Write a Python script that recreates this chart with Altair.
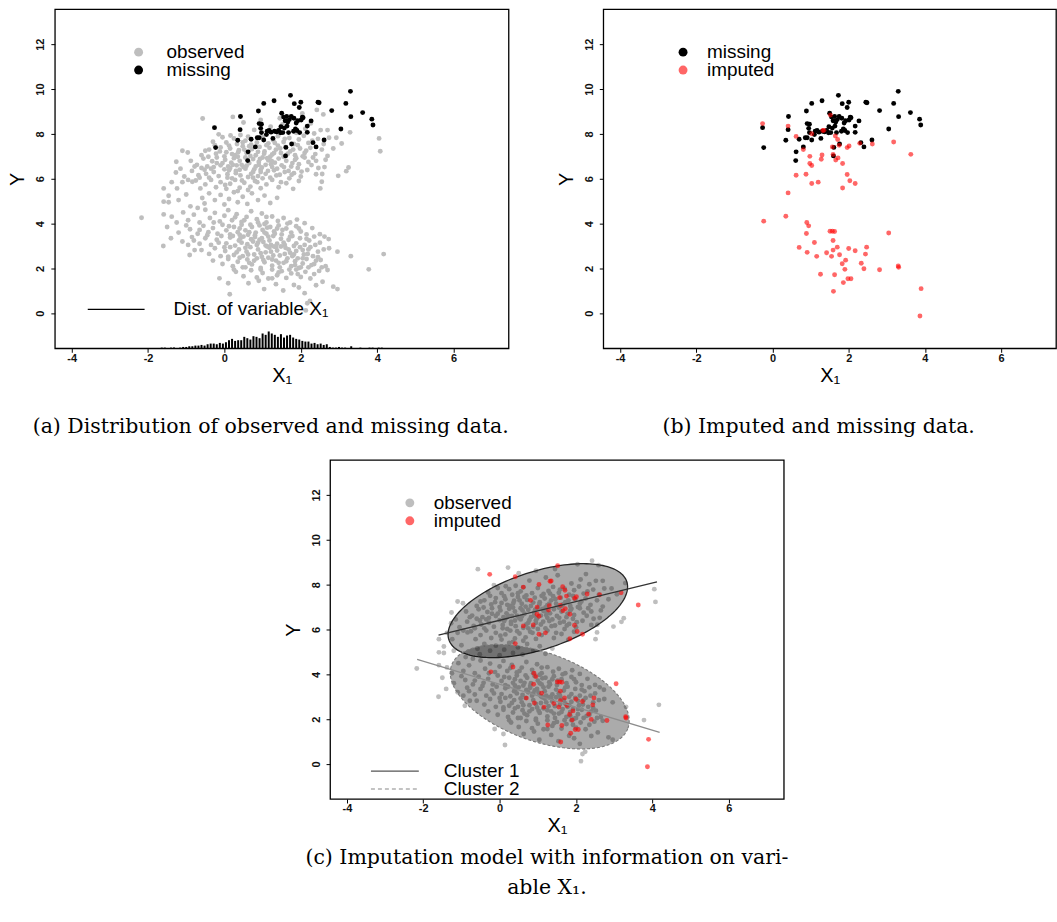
import numpy as np
import pandas as pd
import altair as alt

SANS = "Liberation Sans"
SERIF = "DejaVu Serif"

# ---------------------------------------------------------------- data
# observed cases (X1, Y), upper component
observed_upper = [
    (-0.57, 8.69), (0.22, 8.76), (0.50, 8.51), (-0.15, 7.98), (0.16, 7.93), (0.42, 7.95), (2.42, 9.07),
    (2.59, 8.87), (2.04, 8.91), (2.26, 8.47), (2.52, 8.17), (2.70, 8.17), (1.21, 8.32), (0.78, 8.18),
    (1.52, 8.42), (2.12, 8.23), (1.88, 8.05), (2.35, 8.02), (0.95, 8.62), (1.45, 8.70), (3.29, 8.07),
    (-0.30, 7.65), (0.05, 7.62), (0.25, 7.80), (0.33, 7.55), (0.55, 7.70), (0.62, 7.88), (0.85, 7.62),
    (1.00, 7.85), (1.15, 7.58), (1.28, 7.72), (1.40, 7.90), (1.55, 7.64), (1.70, 7.82), (1.82, 7.55),
    (1.95, 7.75), (2.08, 7.92), (2.20, 7.60), (2.45, 7.78), (2.60, 7.55), (2.74, 7.83), (2.93, 7.83),
    (3.07, 7.57), (4.05, 7.80), (0.70, 7.52), (1.92, 7.50), (-0.05, 7.85),
    (-1.10, 7.25), (-0.96, 7.17), (-0.60, 7.05), (-0.40, 7.30), (-0.22, 7.12), (-0.10, 7.40), (0.05, 7.18),
    (0.15, 7.35), (0.28, 7.05), (0.38, 7.28), (0.48, 7.45), (0.58, 7.15), (0.72, 7.32), (0.82, 7.05),
    (0.92, 7.42), (1.05, 7.22), (1.18, 7.38), (1.25, 7.08), (1.35, 7.30), (1.48, 7.15), (1.60, 7.42),
    (1.72, 7.22), (1.85, 7.05), (1.98, 7.35), (2.10, 7.15), (2.25, 7.38), (2.38, 7.10), (2.55, 7.30),
    (2.70, 7.02), (4.08, 7.23), (0.00, 7.00), (0.65, 7.45), (1.40, 7.48),
    (-1.26, 6.76), (-0.88, 6.80), (-0.72, 6.62), (-0.55, 6.90), (-0.45, 6.55), (-0.32, 6.78), (-0.20, 6.95),
    (-0.10, 6.60), (0.02, 6.85), (0.10, 6.55), (0.18, 6.72), (0.25, 6.92), (0.32, 6.60), (0.40, 6.80),
    (0.50, 6.52), (0.55, 6.95), (0.65, 6.70), (0.75, 6.88), (0.82, 6.55), (0.90, 6.75), (1.00, 6.95),
    (1.08, 6.62), (1.15, 6.82), (1.25, 6.52), (1.32, 6.72), (1.42, 6.90), (1.50, 6.60), (1.62, 6.80),
    (1.75, 6.55), (1.85, 6.85), (1.95, 6.65), (2.10, 6.95), (2.28, 6.61), (2.40, 6.80), (2.62, 6.52),
    (3.25, 6.50), (-0.05, 6.70), (0.35, 6.98), (1.20, 6.98),
    (-1.27, 6.28), (-1.05, 6.10), (-0.85, 6.35), (-0.68, 6.16), (-0.52, 6.40), (-0.40, 6.05), (-0.28, 6.30),
    (-0.15, 6.12), (0.00, 6.42), (0.08, 6.20), (0.20, 6.02), (0.30, 6.35), (0.42, 6.15), (0.55, 6.45),
    (0.62, 6.08), (0.75, 6.30), (0.88, 6.12), (0.95, 6.40), (1.08, 6.22), (1.20, 6.05), (1.30, 6.38),
    (1.45, 6.18), (1.58, 6.30), (1.70, 6.02), (1.82, 6.25), (2.17, 6.39), (2.56, 6.21), (2.98, 6.13),
    (3.19, 6.34), (2.00, 6.10), (-0.60, 6.48), (0.15, 6.48), (1.00, 6.02),
    (-1.59, 5.57), (-1.24, 5.57), (-1.10, 5.85), (-0.84, 5.87), (-0.63, 5.57), (-0.50, 5.75), (-0.35, 5.95),
    (-0.22, 5.62), (-0.10, 5.85), (0.05, 5.55), (0.15, 5.78), (0.28, 5.95), (0.40, 5.60), (0.52, 5.82),
    (0.68, 5.65), (0.80, 5.90), (0.95, 5.58), (1.10, 5.75), (1.25, 5.95), (1.42, 5.62), (1.62, 5.80),
    (1.80, 5.55), (2.55, 5.87), (2.51, 5.57), (-0.75, 5.92),
    (-1.59, 4.98), (-1.46, 4.95), (-1.46, 5.24), (-1.00, 5.30), (-0.89, 4.77), (-0.58, 5.14), (-0.52, 4.90),
    (-0.40, 5.35), (-0.25, 5.05), (-0.10, 5.28), (0.00, 4.85), (0.12, 5.10), (0.25, 5.40), (0.35, 4.95),
    (0.48, 5.20), (0.60, 4.88), (0.72, 5.35), (0.88, 5.05), (1.05, 5.25), (1.20, 4.92), (1.38, 5.15),
    (-1.20, 5.05),
    (0.12, 6.38), (0.45, 6.62), (0.70, 6.22), (0.98, 6.50), (1.12, 6.92), (1.38, 6.45), (1.55, 6.98),
    (1.68, 6.35), (1.92, 6.48), (0.60, 6.85), (0.30, 6.25), (-0.35, 6.45), (-0.20, 6.70), (0.88, 7.20),
    (1.30, 7.15), (1.62, 7.05), (0.20, 7.10), (0.52, 7.30), (2.20, 6.75), (2.05, 7.00), (0.95, 6.30),
    (1.22, 6.65), (-0.48, 6.22), (0.40, 6.40), (1.78, 6.70),
    (-0.42, 6.98), (-0.28, 6.52), (-0.12, 7.22), (0.08, 6.05), (0.22, 6.62), (0.36, 7.18), (0.46, 5.92),
    (0.58, 6.58), (0.68, 7.02), (0.78, 6.42), (0.86, 5.85), (0.93, 6.88), (1.04, 7.12), (1.14, 6.35),
    (1.24, 6.78), (1.36, 6.15), (1.46, 7.35), (1.56, 6.52), (1.66, 7.12), (1.76, 6.18), (1.88, 6.92),
    (2.02, 6.32), (2.14, 7.25), (2.32, 6.95), (2.46, 6.48), (-0.65, 6.05), (-0.78, 6.55), (-0.95, 5.95),
    (-1.15, 6.45), (-1.38, 5.85), (0.02, 5.72), (0.35, 5.45), (0.62, 5.50), (0.90, 6.62), (1.10, 7.50),
    (1.32, 7.60), (1.58, 7.78), (1.80, 7.30), (2.30, 7.70), (0.48, 7.62), (0.12, 7.48), (-0.25, 7.50),
    (-0.50, 7.25), (2.65, 6.85), (2.85, 7.35), (2.40, 6.20), (1.95, 5.90), (0.75, 6.05), (1.48, 5.85),
]

# observed cases, lower component
observed_lower = [
    (-2.17, 4.26), (-1.59, 4.41), (-1.38, 4.31), (-1.08, 4.50), (-0.95, 4.15), (-0.80, 4.40), (-0.65, 4.05),
    (-0.50, 4.62), (-0.38, 4.25), (-0.25, 4.48), (-0.12, 4.10), (0.00, 4.35), (0.10, 4.60), (0.20, 4.15),
    (0.32, 4.42), (0.45, 4.08), (0.58, 4.30), (0.70, 4.55), (0.85, 4.20), (0.98, 4.45), (1.10, 4.05),
    (1.25, 4.32), (1.40, 4.12), (1.55, 4.25), (1.72, 4.05), (1.90, 4.18), (2.10, 4.02), (-0.70, 4.70),
    (-1.50, 3.85), (-1.20, 3.60), (-0.90, 3.75), (-0.70, 3.55), (-0.55, 3.90), (-0.42, 3.62), (-0.30, 3.80),
    (-0.18, 3.55), (-0.05, 3.95), (0.05, 3.70), (0.15, 3.52), (0.25, 3.85), (0.35, 3.62), (0.45, 3.95),
    (0.55, 3.70), (0.62, 3.50), (0.72, 3.85), (0.82, 3.60), (0.92, 3.92), (1.00, 3.72), (1.10, 3.55),
    (1.20, 3.85), (1.30, 3.65), (1.42, 3.92), (1.50, 3.52), (1.62, 3.78), (1.75, 3.60), (1.88, 3.88),
    (2.00, 3.65), (2.15, 3.52), (2.30, 3.80), (2.50, 3.53), (0.40, 3.50), (1.05, 3.98),
    (-1.60, 3.00), (-1.10, 3.20), (-0.85, 3.40), (-0.65, 3.10), (-0.50, 3.35), (-0.35, 3.05), (-0.20, 3.28),
    (-0.08, 3.45), (0.05, 3.12), (0.15, 3.38), (0.28, 3.02), (0.38, 3.25), (0.50, 3.42), (0.60, 3.08),
    (0.70, 3.30), (0.80, 3.48), (0.88, 3.15), (0.98, 3.35), (1.08, 3.02), (1.18, 3.25), (1.28, 3.45),
    (1.38, 3.10), (1.48, 3.32), (1.58, 3.05), (1.68, 3.28), (1.78, 3.45), (1.88, 3.12), (1.98, 3.35),
    (2.10, 3.05), (2.22, 3.25), (2.35, 3.42), (2.50, 3.15), (2.73, 3.31), (-0.95, 3.05), (0.45, 3.15),
    (1.22, 3.05),
    (-0.91, 2.60), (-0.78, 2.82), (-0.60, 2.82), (-0.40, 2.65), (-0.25, 2.90), (-0.10, 2.55), (0.02, 2.78),
    (0.15, 2.95), (0.25, 2.60), (0.38, 2.85), (0.48, 2.55), (0.58, 2.75), (0.68, 2.95), (0.78, 2.62),
    (0.88, 2.85), (0.98, 2.52), (1.08, 2.72), (1.18, 2.92), (1.28, 2.58), (1.38, 2.80), (1.48, 2.98),
    (1.58, 2.65), (1.68, 2.85), (1.78, 2.55), (1.88, 2.78), (1.98, 2.95), (2.08, 2.62), (2.20, 2.85),
    (2.32, 2.55), (2.45, 2.75), (2.74, 2.90), (2.96, 2.75), (3.31, 2.55), (4.17, 2.64), (0.10, 2.52),
    (1.12, 2.98),
    (-0.30, 2.35), (-0.05, 2.20), (0.10, 2.42), (0.22, 2.10), (0.35, 2.30), (0.48, 2.05), (0.60, 2.40),
    (0.72, 2.18), (0.85, 2.45), (0.95, 2.02), (1.05, 2.28), (1.15, 2.48), (1.25, 2.12), (1.35, 2.35),
    (1.45, 2.05), (1.55, 2.25), (1.65, 2.45), (1.75, 2.10), (1.85, 2.32), (1.95, 2.02), (2.05, 2.22),
    (2.15, 2.42), (2.28, 2.15), (2.40, 2.35), (2.52, 2.38), (2.65, 2.10), (0.40, 2.48),
    (-0.13, 1.56), (0.30, 1.85), (0.50, 1.65), (0.70, 1.92), (0.85, 1.60), (1.00, 1.80), (1.15, 1.55),
    (1.25, 1.95), (1.38, 1.70), (1.50, 1.88), (1.62, 1.58), (1.75, 1.78), (1.88, 1.95), (2.00, 1.62),
    (2.12, 1.85), (2.25, 1.55), (2.35, 1.75), (2.48, 1.89), (2.70, 1.93), (3.78, 1.96), (1.25, 1.56),
    (0.10, 1.34), (0.14, 0.85), (0.63, 1.34), (1.04, 1.08), (1.54, 1.02), (1.82, 1.26), (2.24, 0.55),
    (2.17, 0.45), (2.96, 1.08), (2.85, 1.19), (2.57, 1.41), (1.35, 1.30), (1.95, 1.15), (2.40, 1.25),
    (0.90, 1.45), (2.10, 0.90), (2.13, 0.13),
    (0.42, 3.35), (0.65, 3.62), (0.85, 3.05), (1.02, 3.18), (1.15, 3.42), (1.35, 2.95), (1.55, 3.15),
    (1.72, 2.70), (1.92, 2.45), (2.18, 2.65), (0.95, 2.68), (1.25, 2.40), (1.45, 2.58), (1.62, 2.32),
    (1.82, 3.00), (2.05, 2.82), (0.55, 2.92), (0.75, 3.20), (1.05, 3.60), (1.38, 3.78), (0.22, 3.45),
    (2.35, 2.20), (2.00, 2.05), (1.70, 1.95), (0.65, 2.25),
    (-0.45, 3.48), (-0.28, 4.05), (-0.15, 3.15), (0.00, 2.95), (0.12, 3.88), (0.28, 4.28), (0.32, 2.72),
    (0.52, 4.15), (0.62, 2.62), (0.68, 3.95), (0.78, 2.35), (0.88, 4.05), (0.92, 3.28), (1.02, 2.38),
    (1.12, 3.82), (1.22, 2.75), (1.32, 3.55), (1.42, 2.25), (1.52, 3.72), (1.60, 2.92), (1.72, 3.42),
    (1.82, 2.62), (1.95, 3.78), (2.05, 2.45), (2.15, 3.32), (2.25, 2.95), (2.38, 3.05), (2.45, 2.50),
    (2.60, 2.85), (2.62, 3.42), (-0.65, 3.72), (-0.80, 3.25), (-1.00, 3.92), (-1.25, 4.05), (-1.40, 3.35),
    (0.25, 1.95), (0.55, 2.05), (0.95, 1.95), (1.42, 1.82), (1.92, 1.75), (2.20, 2.05), (2.55, 2.05),
    (1.10, 4.30), (1.65, 4.00), (0.40, 3.78), (0.80, 3.40), (1.30, 2.98), (1.85, 2.15),
]

# cases whose Y is missing (true values)
missing = [
    (-0.26, 8.28), (-0.23, 7.39), (0.42, 8.78), (0.41, 8.19), (0.35, 7.72), (0.62, 7.20), (0.61, 6.81),
    (0.70, 7.76), (0.81, 7.42), (0.89, 9.02), (0.91, 8.46), (1.03, 9.36), (0.97, 8.43), (0.86, 7.83),
    (0.91, 7.83), (0.97, 8.06), (1.03, 7.73), (1.10, 7.97), (1.17, 8.16), (1.27, 7.80), (1.30, 9.48),
    (1.31, 8.12), (1.37, 8.09), (1.42, 8.16), (1.50, 8.92), (1.55, 8.75), (1.53, 8.06), (1.57, 8.26),
    (1.59, 8.59), (1.61, 7.40), (1.60, 7.02), (1.63, 8.78), (1.66, 8.53), (1.68, 8.06), (1.70, 8.64),
    (1.73, 9.72), (1.75, 8.78), (1.76, 7.55), (1.83, 9.35), (1.81, 8.12), (1.86, 8.22), (1.88, 8.49),
    (1.92, 8.59), (1.96, 9.18), (1.97, 8.06), (2.00, 9.41), (2.01, 8.62), (2.04, 8.75), (2.17, 8.35),
    (2.17, 8.07), (2.27, 8.58), (2.32, 7.61), (2.40, 7.42), (2.45, 9.41), (2.48, 9.39), (2.61, 7.73),
    (2.81, 9.04), (3.05, 8.22), (3.18, 9.36), (3.30, 9.90), (3.31, 8.77), (3.62, 8.95), (3.86, 8.66),
    (3.89, 8.40), (1.12, 8.12), (1.22, 8.08), (1.47, 8.05), (1.64, 8.35), (1.90, 8.15), (2.06, 8.72),
    (1.48, 8.32), (0.95, 8.25), (1.82, 8.70),
]

# imputed values for the missing cases
imputed = [
    (-0.26, 8.46), (-0.23, 4.11), (0.41, 8.35), (0.35, 4.33), (0.41, 5.37), (0.62, 7.89), (0.62, 6.16),
    (0.81, 7.30), (0.88, 6.20), (0.98, 7.00), (0.98, 6.68), (1.03, 6.59), (1.03, 5.79), (1.20, 5.85),
    (1.03, 8.01), (1.32, 8.15), (1.30, 7.06), (1.28, 6.87), (1.52, 8.84), (1.57, 7.42), (1.59, 7.08),
    (1.65, 7.91), (1.71, 7.75), (1.75, 7.49), (1.72, 6.93), (1.66, 6.84), (1.84, 6.68), (1.96, 7.39),
    (2.01, 7.46), (1.96, 6.19), (2.03, 5.91), (1.84, 5.59), (2.17, 5.79), (2.29, 7.58), (2.62, 7.55),
    (3.18, 7.64), (3.63, 7.09), (1.35, 8.16),
    (0.90, 4.05), (0.95, 3.90), (0.89, 3.56), (1.10, 3.16), (0.70, 2.94), (0.91, 2.72), (1.16, 2.54),
    (1.42, 2.70), (1.51, 3.66), (1.57, 3.66), (1.63, 3.65), (1.59, 3.25), (1.70, 2.95), (1.59, 2.82),
    (1.55, 2.54), (1.76, 2.61), (2.00, 2.89), (2.17, 2.79), (2.47, 2.95), (2.44, 2.64), (1.92, 2.37),
    (1.83, 2.21), (1.90, 1.96), (2.33, 2.23), (2.40, 1.99), (2.81, 1.94), (1.26, 1.74), (1.63, 1.72),
    (1.98, 1.54), (2.06, 1.54), (1.86, 1.37), (1.60, 0.98), (3.05, 3.58), (3.30, 2.11), (3.31, 2.05),
    (3.90, 1.10), (3.87, -0.12),
]

# histogram of X1 drawn along the bottom of panel (a)
x1_hist_start = -1.72
x1_hist_width = 0.08
x1_hist_counts = [
    0, 1, 1, 0, 1, 1, 0, 1, 2, 2, 3, 3, 4, 4, 5, 4, 6, 7, 7, 6, 8, 7, 9, 12, 14,
    11, 12, 12, 17, 15, 13, 18, 17, 15, 22, 20, 25, 22, 20, 17, 21, 16, 19, 20, 16,
    14, 13, 11, 10, 10, 7, 8, 6, 7, 5, 6, 2, 1, 1, 2, 1, 1, 0, 3, 0, 0, 1, 0, 0, 1,
    1, 0, 1, 1, 0,
]
hist_unit = 0.03  # Y units per count

# fitted two-component model: ellipse centres and semi-axis vectors, regression lines
cluster1_center = [1.00, 6.84]
cluster1_axis_a = [2.33, 1.29]
cluster1_axis_b = [-0.31, 1.65]
cluster2_center = [1.05, 3.00]
cluster2_axis_a = [2.31, -1.40]
cluster2_axis_b = [0.39, 1.86]
cluster1_line_x = [-1.60, 4.12]
cluster1_line_y = [5.75, 8.12]
cluster2_line_x = [-2.16, 4.19]
cluster2_line_y = [4.67, 1.41]

x_ticks = [-4, -2, 0, 2, 4, 6]
y_ticks = [0, 2, 4, 6, 8, 10, 12]
x_domain = [-4.44, 7.44]
y_domain = [-1.56, 13.56]

caption_a = "(a) Distribution of observed and missing data."
caption_b = "(b) Imputed and missing data."
caption_c = ["(c) Imputation model with information on vari-", "able X\u2081."]

# ---------------------------------------------------------------- frames
def pts(pairs):
    return pd.DataFrame(pairs, columns=["x", "y"])

obs_df = pd.concat([pts(observed_upper), pts(observed_lower)], ignore_index=True)
miss_df = pts(missing)
imp_df = pts(imputed)
hist_df = pd.DataFrame({
    "x": [x1_hist_start + i * x1_hist_width for i in range(len(x1_hist_counts))],
    "count": x1_hist_counts,
})


def ellipse_df(center, a, b, n=160):
    t = np.linspace(0, 2 * np.pi, n + 1)
    return pd.DataFrame({
        "t": np.arange(n + 1),
        "x": center[0] + a[0] * np.cos(t) + b[0] * np.sin(t),
        "y": center[1] + a[1] * np.cos(t) + b[1] * np.sin(t),
    })


ell1_df = ellipse_df(cluster1_center, cluster1_axis_a, cluster1_axis_b)
ell2_df = ellipse_df(cluster2_center, cluster2_axis_a, cluster2_axis_b)
line1_df = pd.DataFrame({"x": cluster1_line_x, "y": cluster1_line_y})
line2_df = pd.DataFrame({"x": cluster2_line_x, "y": cluster2_line_y})
ONE = pd.DataFrame({"k": [0]})

# ---------------------------------------------------------------- scales & axes
W, H = 455, 340
W_B = 454
GRAY = "#bebebe"

x_scale = alt.Scale(domain=x_domain, nice=False, zero=False)
y_scale = alt.Scale(domain=y_domain, nice=False, zero=False)
x_axis = alt.Axis(
    title="X\u2081", values=x_ticks, labelExpr="'' + datum.value",
    tickSize=4, labelPadding=0, titleY=27, titleBaseline="middle",
)
y_axis = alt.Axis(
    title="Y", values=y_ticks, labelExpr="'' + datum.value",
    labelAngle=270, labelAlign="center", labelBaseline="bottom",
    tickSize=4, labelPadding=5,
    titleAngle=270, titleX=-37, titleY=H / 2, titleBaseline="middle", titleAlign="center",
)


def X(field="x"):
    return alt.X(f"{field}:Q", scale=x_scale, axis=x_axis)


def Y(field="y"):
    return alt.Y(f"{field}:Q", scale=y_scale, axis=y_axis)


def scatter(df, color, opacity=1.0):
    return alt.Chart(df).mark_circle(size=24, color=color, opacity=opacity).encode(x=X(), y=Y())


def legend_dot(px, py, color, opacity=1.0):
    return alt.Chart(ONE).mark_circle(size=80, color=color, opacity=opacity).encode(
        x=alt.value(px), y=alt.value(py))


def legend_text(px, py, label):
    return alt.Chart(ONE).mark_text(
        text=label, align="left", baseline="middle", font=SANS, fontSize=19, color="black"
    ).encode(x=alt.value(px), y=alt.value(py))


def legend_line(px1, px2, py, color, dash=None):
    kw = dict(color=color, strokeWidth=1.4)
    if dash:
        kw["strokeDash"] = dash
    return alt.Chart(ONE).mark_rule(**kw).encode(
        x=alt.value(px1), x2=alt.value(px2), y=alt.value(py))


def caption(text, dx, offset):
    return alt.TitleParams(
        text=text, orient="bottom", anchor="middle", font=SERIF, fontSize=20.5,
        fontWeight="normal", color="black", dx=dx, offset=offset, lineHeight=30,
    )

# ---------------------------------------------------------------- panel (a)
hist = alt.Chart(hist_df).transform_calculate(
    top=f"{y_domain[0]} + datum.count * {hist_unit}"
).mark_rule(color="black", strokeWidth=2).encode(
    x=X(), y=Y("top"), y2=alt.value(H)
)

panel_a = alt.layer(
    scatter(obs_df, GRAY),
    scatter(miss_df, "black"),
    hist,
    legend_dot(84, 43, GRAY), legend_text(112, 43, "observed"),
    legend_dot(84, 61, "black"), legend_text(112, 61, "missing"),
    legend_line(33, 90, 301, "black"), legend_text(119, 301, "Dist. of variable X\u2081"),
).properties(width=W, height=H, title=caption(caption_a, -11, 32))

# ---------------------------------------------------------------- panel (b)
panel_b = alt.layer(
    scatter(miss_df, "black"),
    scatter(imp_df, "red", 0.6),
    legend_dot(80, 43, "black"), legend_text(104, 43, "missing"),
    legend_dot(80, 61, "red", 0.6), legend_text(104, 61, "imputed"),
).properties(width=W_B, height=H, title=caption(caption_b, -11, 32))

# ---------------------------------------------------------------- panel (c)
ell1 = alt.Chart(ell1_df).mark_line(
    fill="black", fillOpacity=0.33, stroke="#262626", strokeWidth=1.3
).encode(x=X(), y=Y(), order="t:Q")
ell2 = alt.Chart(ell2_df).mark_line(
    fill="black", fillOpacity=0.33, stroke="#7a7a7a", strokeWidth=1.1, strokeDash=[3, 2]
).encode(x=X(), y=Y(), order="t:Q")
reg1 = alt.Chart(line1_df).mark_line(color="#333333", strokeWidth=1.3).encode(x=X(), y=Y())
reg2 = alt.Chart(line2_df).mark_line(color="#8c8c8c", strokeWidth=1.3).encode(x=X(), y=Y())

panel_c = alt.layer(
    scatter(obs_df, GRAY),
    ell1, ell2,
    scatter(imp_df, "red", 0.6),
    reg1, reg2,
    legend_dot(80, 43, GRAY), legend_text(104, 43, "observed"),
    legend_dot(80, 61, "red", 0.6), legend_text(104, 61, "imputed"),
    legend_line(41, 89, 312, "#555555"), legend_text(114, 312, "Cluster 1"),
    legend_line(41, 89, 330, "#b0b0b0", [4, 3]), legend_text(114, 330, "Cluster 2"),
).properties(width=W, height=H, title=caption(caption_c, -10, 12))

spacer = alt.Chart(ONE).mark_point(opacity=0).encode(
    x=alt.value(0), y=alt.value(0)
).properties(width=228, height=H, view=alt.ViewBackground(strokeOpacity=0))

top_row = alt.hconcat(panel_a, panel_b, spacing=46)
bottom_row = alt.hconcat(spacer, panel_c, spacing=0)

chart = alt.vconcat(top_row, bottom_row, spacing=18).properties(
    padding={"left": 7, "top": 7, "right": 0, "bottom": 0},
    background="white",
).configure_view(
    stroke="black", strokeWidth=1.3
).configure_axis(
    domain=False, grid=False, tickColor="black", tickWidth=1,
    labelFont=SANS, labelFontSize=11, labelFontWeight="bold", labelColor="#111111",
    titleFont=SANS, titleFontSize=20, titleFontWeight="normal", titleColor="black",
)

chart.save("out.html", embed_options={"renderer": "svg", "actions": False})
